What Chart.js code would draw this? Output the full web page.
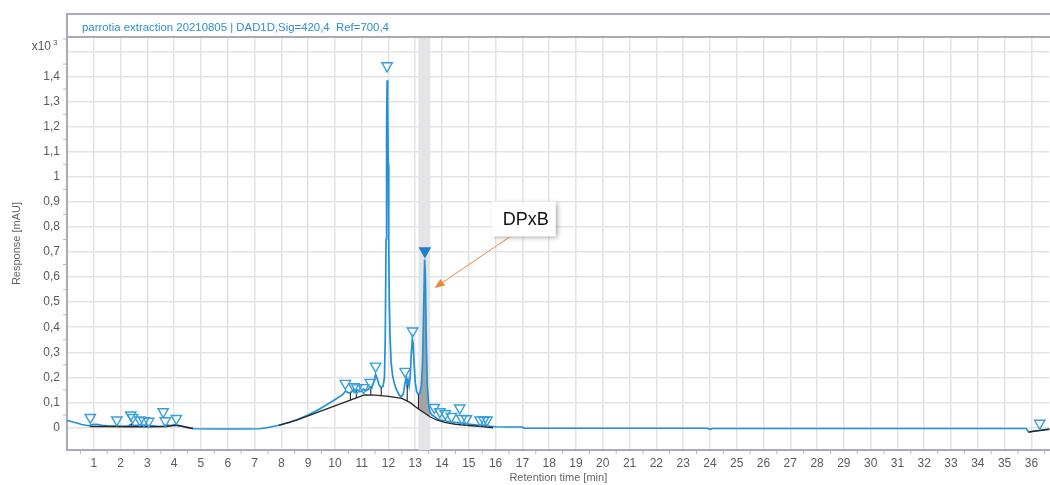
<!DOCTYPE html>
<html><head><meta charset="utf-8">
<script src="https://cdn.jsdelivr.net/npm/chart.js@4.4.0/dist/chart.umd.min.js"></script>
<style>html,body{margin:0;padding:0;background:#fff;overflow:hidden;}#wrap{position:relative;width:1057px;height:485px;}</style>
</head><body><div id="wrap"><canvas id="c"></canvas></div>
<script>
const chartTitle = 'parrotia extraction 20210805 | DAD1D,Sig=420,4  Ref=700,4';
const xAxisTitle = 'Retention time [min]';
const yAxisTitle = 'Response [mAU]';
const yScaleNote = 'x10';
const yScaleExp = '3';

const xTickValues = [0,1,2,3,4,5,6,7,8,9,10,11,12,13,14,15,16,17,18,19,20,21,22,23,24,25,26,27,28,29,30,31,32,33,34,35,36];
const xTickLabels = ['','1','2','3','4','5','6','7','8','9','10','11','12','13','14','15','16','17','18','19','20','21','22','23','24','25','26','27','28','29','30','31','32','33','34','35','36'];
const yTickValues = [0,0.1,0.2,0.3,0.4,0.5,0.6,0.7,0.8,0.9,1.0,1.1,1.2,1.3,1.4,1.5];
const yTickLabels = ['0','0,1','0,2','0,3','0,4','0,5','0,6','0,7','0,8','0,9','1','1,1','1,2','1,3','1,4',''];

// chromatogram signal (x10^3 mAU)
const traceTime = [0.00,0.30,0.55,0.80,0.95,1.10,1.30,1.50,1.80,2.10,2.30,2.40,2.50,2.70,2.90,3.10,3.40,3.60,3.70,3.85,4.05,4.25,4.50,4.75,5.50,6.50,7.20,7.50,7.90,8.30,8.60,9.00,9.40,9.80,10.10,10.30,10.40,10.50,10.60,10.70,10.76,10.83,10.92,11.00,11.07,11.15,11.25,11.32,11.38,11.45,11.52,11.58,11.65,11.72,11.80,11.85,11.88,11.91,11.93,11.95,11.97,11.99,12.01,12.03,12.06,12.10,12.15,12.22,12.30,12.40,12.47,12.55,12.62,12.66,12.70,12.73,12.77,12.81,12.85,12.89,12.92,12.96,13.00,13.05,13.12,13.18,13.23,13.27,13.31,13.35,13.38,13.41,13.45,13.50,13.55,13.62,13.70,13.80,13.92,14.05,14.20,14.40,14.60,14.80,15.05,15.40,15.70,16.00,16.50,17.00,17.06,20.00,23.90,24.00,24.10,30.00,35.80,35.90,36.05,36.68];
const traceSignal = [0.028,0.020,0.012,0.007,0.012,0.013,0.009,0.007,0.006,0.005,0.007,0.014,0.008,0.010,0.009,0.008,0.005,0.006,0.010,0.008,0.011,0.006,-0.001,-0.005,-0.006,-0.006,-0.005,0.000,0.009,0.020,0.032,0.050,0.072,0.098,0.118,0.132,0.146,0.138,0.140,0.152,0.142,0.150,0.143,0.145,0.153,0.147,0.152,0.163,0.158,0.180,0.212,0.195,0.170,0.160,0.165,0.200,0.350,0.750,1.200,1.385,1.300,1.050,0.750,0.520,0.360,0.260,0.210,0.175,0.150,0.130,0.122,0.132,0.178,0.196,0.170,0.190,0.165,0.200,0.290,0.355,0.335,0.250,0.180,0.145,0.130,0.140,0.170,0.250,0.450,0.670,0.600,0.350,0.170,0.090,0.062,0.050,0.045,0.036,0.031,0.028,0.025,0.022,0.019,0.016,0.013,0.009,0.006,0.003,0.002,0.002,-0.003,-0.003,-0.003,-0.007,-0.004,-0.004,-0.004,-0.018,-0.015,-0.008];

// integration baseline (null = gap)
const baseTime = [0.85,1.50,2.35,3.00,3.70,4.05,4.30,4.70,6.00,7.90,8.60,9.50,10.50,11.10,11.50,12.00,12.50,12.80,13.12,13.55,13.80,14.10,14.50,15.00,15.50,15.90,20.00,35.90,36.68];
const baseSignal = [0.004,0.004,0.003,0.003,0.004,0.009,0.005,-0.004,null,0.008,0.030,0.066,0.106,0.130,0.129,0.124,0.116,0.100,0.074,0.043,0.030,0.020,0.013,0.008,0.004,-0.001,null,-0.018,-0.006];

// peak drop lines
const dropTime = [2.40,3.70,10.58,10.80,11.34,11.73,12.70,13.12];
const dropTop = [0.014,0.010,0.139,0.147,0.162,0.160,0.170,0.130];
const dropBottom = [0.003,0.004,0.109,0.118,0.130,0.127,0.105,0.074];

// peak markers
const peakTime = [0.87,1.86,2.38,2.45,2.72,2.87,3.05,3.59,3.67,4.08,10.39,10.71,10.82,11.07,11.32,11.52,11.95,12.62,12.90,13.71,13.92,14.12,14.35,14.66,14.74,14.91,15.42,15.56,15.68,36.31];
const peakMark = [0.040,0.030,0.050,0.040,0.030,0.027,0.025,0.063,0.027,0.036,0.176,0.163,0.158,0.159,0.180,0.245,1.443,0.224,0.385,0.080,0.063,0.055,0.044,0.078,0.036,0.035,0.030,0.030,0.030,0.017];
const selectedTime = [13.36];
const selectedMark = [0.704];

// selected peak integration window
const bandRange = [13.12, 13.56];
const areaRange = [13.12, 13.55];

// annotation
const annotationText = 'DPxB';
const annotationBox = {x: 17.05, y: 0.832};
const arrowFrom = {x: 16.52, y: 0.760};
const arrowTo = {x: 13.72, y: 0.557};

const FONT = "'Liberation Sans', Arial, Helvetica, sans-serif";

const pts = (t, v) => t.map((x, i) => ({x, y: v[i]}));
const tracePts = pts(traceTime, traceSignal);
const basePts = pts(baseTime, baseSignal);
const dropPts = [];
dropTime.forEach((t, i) => { dropPts.push({x: t, y: dropTop[i]}, {x: t, y: dropBottom[i]}, {x: t, y: null}); });
const areaPts = tracePts.filter(p => p.x >= areaRange[0] && p.x <= areaRange[1])
  .concat(basePts.filter(p => p.y !== null && p.x >= areaRange[0] && p.x <= areaRange[1]).reverse());

const decor = {
  id: 'decor',
  beforeDatasetsDraw(chart) {
    const {ctx, chartArea: a, scales: {x}} = chart;
    const x0 = x.getPixelForValue(bandRange[0]), x1 = x.getPixelForValue(bandRange[1]);
    ctx.save();
    ctx.fillStyle = '#e4e4e7';
    ctx.fillRect(x0, a.top, x1 - x0, a.bottom - a.top);
    ctx.restore();
  },
  afterDraw(chart) {
    const {ctx, chartArea: a, scales: {x, y}} = chart;
    ctx.save();
    // minor ticks
    ctx.strokeStyle = '#b4b6c2';
    ctx.lineWidth = 1;
    ctx.beginPath();
    for (let i = 0; i < xTickValues.length; i++) {
      const px = x.getPixelForValue(xTickValues[i] + 0.5);
      if (px < a.right) { ctx.moveTo(px, a.bottom + 1); ctx.lineTo(px, a.bottom + 4); }
    }
    for (let i = 0; i < yTickValues.length; i++) {
      const py = y.getPixelForValue(yTickValues[i] + 0.05);
      if (py > a.top) { ctx.moveTo(a.left - 1, py); ctx.lineTo(a.left - 4, py); }
    }
    ctx.stroke();
    // frame of title band
    ctx.strokeStyle = '#a9abba';
    ctx.lineWidth = 2;
    ctx.beginPath();
    ctx.moveTo(a.left, 14); ctx.lineTo(chart.width, 14);
    ctx.moveTo(a.left, a.top); ctx.lineTo(chart.width, a.top);
    ctx.moveTo(a.left, 13); ctx.lineTo(a.left, a.top);
    ctx.stroke();
    // title
    ctx.fillStyle = '#2b8fd0';
    ctx.font = '11.4px ' + FONT;
    ctx.textBaseline = 'alphabetic';
    ctx.textAlign = 'left';
    ctx.fillText(chartTitle, a.left + 15, 30.5);
    // x10^3
    ctx.fillStyle = '#5a5a5a';
    ctx.font = '12px ' + FONT;
    ctx.textAlign = 'right';
    ctx.fillText(yScaleNote, 51, 50);
    ctx.font = '8px ' + FONT;
    ctx.textAlign = 'left';
    ctx.fillText(yScaleExp, 53, 45);
    // annotation arrow
    const fx = x.getPixelForValue(arrowFrom.x), fy = y.getPixelForValue(arrowFrom.y);
    const tx = x.getPixelForValue(arrowTo.x), ty = y.getPixelForValue(arrowTo.y);
    const ang = Math.atan2(ty - fy, tx - fx);
    const hl = 10, hw = 4;
    ctx.strokeStyle = '#f0873a';
    ctx.fillStyle = '#f0873a';
    ctx.lineWidth = 1;
    ctx.beginPath();
    ctx.moveTo(fx, fy);
    ctx.lineTo(tx - Math.cos(ang) * hl * 0.8, ty - Math.sin(ang) * hl * 0.8);
    ctx.stroke();
    ctx.beginPath();
    ctx.moveTo(tx, ty);
    ctx.lineTo(tx - Math.cos(ang) * hl - Math.sin(ang) * hw, ty - Math.sin(ang) * hl + Math.cos(ang) * hw);
    ctx.lineTo(tx - Math.cos(ang) * hl + Math.sin(ang) * hw, ty - Math.sin(ang) * hl - Math.cos(ang) * hw);
    ctx.closePath();
    ctx.fill();
    // annotation box
    const bx = x.getPixelForValue(annotationBox.x), by = y.getPixelForValue(annotationBox.y);
    const bw = 64, bh = 35;
    ctx.save();
    ctx.shadowColor = 'rgba(0,0,0,0.35)';
    ctx.shadowBlur = 5;
    ctx.shadowOffsetX = 2;
    ctx.shadowOffsetY = 2;
    ctx.fillStyle = '#ffffff';
    ctx.fillRect(bx - bw / 2, by - bh / 2, bw, bh);
    ctx.restore();
    ctx.fillStyle = '#111111';
    ctx.font = '18px ' + FONT;
    ctx.textAlign = 'center';
    ctx.textBaseline = 'middle';
    ctx.fillText(annotationText, bx + 2, by + 1);
    ctx.restore();
  }
};

new Chart(document.getElementById('c'), {
  type: 'scatter',
  data: {
    datasets: [
      {label: 'peaks', data: pts(peakTime, peakMark), showLine: false, pointStyle: 'triangle', rotation: 180,
       pointRadius: 6, pointBorderWidth: 1.4, pointBorderColor: '#3a9fd9', pointBackgroundColor: 'rgba(255,255,255,0)', order: 0},
      {label: 'selected', data: pts(selectedTime, selectedMark), showLine: false, pointStyle: 'triangle', rotation: 180,
       pointRadius: 6, pointBorderWidth: 1.4, pointBorderColor: '#1f7fcc', pointBackgroundColor: '#1f7fcc', order: 0},
      {label: 'baseline', data: basePts, showLine: true, pointRadius: 0, borderColor: '#262626', borderWidth: 1.3, spanGaps: false, order: 1},
      {label: 'drops', data: dropPts, showLine: true, pointRadius: 0, borderColor: '#262626', borderWidth: 1.1, spanGaps: false, order: 2},
      {label: 'signal', data: tracePts, showLine: true, pointRadius: 0, borderColor: '#2190d6', borderWidth: 1.7, tension: 0, order: 3},
      {label: 'area', data: areaPts, showLine: true, pointRadius: 0, borderWidth: 0, borderColor: 'rgba(0,0,0,0)', backgroundColor: '#a3a3a6', fill: 'shape', order: 4}
    ]
  },
  options: {
    responsive: true,
    maintainAspectRatio: false,
    animation: false,
    events: [],
    layout: {padding: {top: 37, right: 0, left: 0, bottom: 0}},
    plugins: {legend: {display: false}, tooltip: {enabled: false}, title: {display: false}},
    scales: {
      x: {
        type: 'linear', min: 0, max: 36.68,
        afterBuildTicks: s => { s.ticks = xTickValues.map(v => ({value: v})); },
        afterFit: s => { s.height = 35; s.paddingLeft = 0; s.paddingRight = 0; },
        ticks: {autoSkip: false, maxRotation: 0, padding: 6, color: '#5a5a5a', font: {family: FONT, size: 12},
          callback: (v, i) => xTickLabels[i]},
        grid: {color: '#e3e3e3', lineWidth: 1.5, drawTicks: false},
        border: {display: true, color: '#a9abba', width: 2},
        title: {display: true, text: xAxisTitle, color: '#666666', font: {family: FONT, size: 11}, padding: {top: 0, bottom: 0}}
      },
      y: {
        type: 'linear', min: -0.0898, max: 1.558,
        afterBuildTicks: s => { s.ticks = yTickValues.map(v => ({value: v})); },
        afterFit: s => { s.width = 67; s.paddingTop = 0; s.paddingBottom = 0; },
        ticks: {autoSkip: false, padding: 7, color: '#5a5a5a', font: {family: FONT, size: 12},
          callback: (v, i) => yTickLabels[i]},
        grid: {color: '#e3e3e3', lineWidth: 1.5, drawTicks: false},
        border: {display: true, color: '#a9abba', width: 2},
        title: {display: true, text: yAxisTitle, color: '#666666', font: {family: FONT, size: 11}, padding: {top: 10, bottom: 0}}
      }
    }
  },
  plugins: [decor]
});
</script></body></html>
